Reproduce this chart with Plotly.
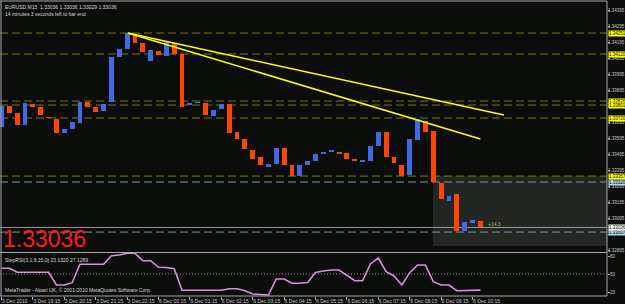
import plotly.graph_objects as go

W, H = 625, 304

# ---------------- data ----------------
bar_index = list(range(62))
opens = [1.33664, 1.33795, 1.33751, 1.33676, 1.33808, 1.33789, 1.33726, 1.33714, 1.33626, 1.33651,
         1.33689, 1.33820, 1.33789, 1.33764, 1.33820, 1.34101, 1.34151, 1.34245, 1.34189, 1.34076,
         1.34139, 1.34108, 1.34189, 1.34120, 1.33801, 1.33814, 1.33814, 1.33733, 1.33776, 1.33808,
         1.33633, 1.33589, 1.33520, 1.33476, 1.33414, 1.33433, 1.33533, 1.33426, 1.33358, 1.33426,
         1.33451, 1.33501, 1.33508, 1.33508, 1.33501, 1.33464, 1.33451, 1.33451, 1.33545, 1.33633,
         1.33476, 1.33426, 1.33364, 1.33583, 1.33701, 1.33639, 1.33314, 1.33201, 1.33245, 1.33014,
         1.33064, 1.33076]
closes = [1.33795, 1.33751, 1.33676, 1.33814, 1.33789, 1.33739, 1.33720, 1.33626, 1.33651, 1.33695,
          1.33820, 1.33789, 1.33758, 1.33808, 1.34101, 1.34151, 1.34251, 1.34189, 1.34133, 1.34145,
          1.34114, 1.34195, 1.34120, 1.33789, 1.33814, 1.33820, 1.33739, 1.33770, 1.33808, 1.33626,
          1.33589, 1.33526, 1.33464, 1.33426, 1.33433, 1.33533, 1.33426, 1.33358, 1.33426, 1.33451,
          1.33495, 1.33508, 1.33514, 1.33501, 1.33464, 1.33451, 1.33458, 1.33545, 1.33633, 1.33476,
          1.33439, 1.33358, 1.33589, 1.33714, 1.33633, 1.33320, 1.33214, 1.33233, 1.33014, 1.33070,
          1.33083, 1.33036]
rsi = [59.5, 59.5, 52.8, 52.8, 52.8, 52.8, 52.8, 31.7, 31.7, 35.5,
       66.2, 66.2, 66.2, 66.2, 80.5, 81.7, 84.5, 84.5, 72.2, 72.2,
       61.2, 60.8, 58.8, 22.8, 22.8, 22.8, 22.8, 22.8, 22.8, 25.5,
       25.5, 22.2, 16.7, 15.8, 15.0, 41.7, 41.7, 34.5, 34.5, 35.8,
       52.5, 55.0, 56.7, 56.7, 48.3, 38.8, 38.8, 66.7, 76.7, 53.8,
       46.7, 31.7, 52.2, 65.0, 65.0, 37.2, 31.7, 31.7, 22.2, 22.2,
       22.2, 23.13]

time_tick_bars = [0, 4, 8, 12, 16, 20, 24, 28, 32, 36, 40, 44, 48, 52, 56, 60]
time_tick_labels = ["3 Dec 2010", "3 Dec 19:15", "3 Dec 20:15", "3 Dec 21:15", "3 Dec 22:15",
                    "6 Dec 00:15", "6 Dec 01:15", "6 Dec 02:15", "6 Dec 03:15", "6 Dec 04:15",
                    "6 Dec 05:15", "6 Dec 06:15", "6 Dec 07:15", "6 Dec 08:15", "6 Dec 09:15",
                    "6 Dec 10:15"]
price_ticks = ["1.34395", "1.34295", "1.34195", "1.34095", "1.33995", "1.33895", "1.33795",
               "1.33695", "1.33595", "1.33495", "1.33395", "1.33295", "1.33195", "1.33095",
               "1.32995", "1.32895"]
hidden_price_ticks = ["1.33795", "1.32995"]   # covered by the price tags
rsi_ticks = [80, 50, 20]

yellow_levels = [1.34251, 1.34120, 1.33826, 1.33801, 1.33720, 1.33357]
blue_levels = [1.33320, 1.33007]
bid_price = 1.33036
trend_upper_x = [16.1, 64.0]
trend_upper_y = [1.34251, 1.33739]
trend_lower_x = [16.1, 61.0]
trend_lower_y = [1.34251, 1.33589]

# ---------------- style ----------------
BG = "#0b0d0b"
BULL = "#4169E1"
BEAR = "#FF4500"
FONT = "Liberation Sans"

X0, X1 = -0.19, 77.13
PLOT_R = 607 / W
MAIN_DOM = [1 - 252 / H, 1]
RSI_DOM = [1 - 296 / H, 1 - 253 / H]
PRICE_RANGE = [1.328825, 1.344575]
RSI_RANGE = [13.33, 85.0]

bases = [min(o, c) for o, c in zip(opens, closes)]
heights = [max(abs(c - o), 0.00002) for o, c in zip(opens, closes)]
colors = [BULL if c >= o else BEAR for o, c in zip(opens, closes)]

fig = go.Figure()
fig.add_trace(go.Bar(x=bar_index, base=bases, y=heights, width=0.62,
                     marker=dict(color=colors, line=dict(width=0)),
                     xaxis="x", yaxis="y", hoverinfo="skip"))
fig.add_trace(go.Scatter(x=bar_index, y=rsi, mode="lines",
                         line=dict(color="#d98fdc", width=1.6),
                         xaxis="x2", yaxis="y2", hoverinfo="skip"))
fig.add_trace(go.Scatter(x=trend_upper_x, y=trend_upper_y, mode="lines",
                         line=dict(color="#ffff00", width=1.6), xaxis="x", yaxis="y"))
fig.add_trace(go.Scatter(x=trend_lower_x, y=trend_lower_y, mode="lines",
                         line=dict(color="#ffff00", width=1.6), xaxis="x", yaxis="y"))

shapes = []
# shaded box
shapes.append(dict(type="rect", xref="paper", yref="paper", x0=433 / W, x1=PLOT_R,
                   y0=1 - 246 / H, y1=1 - 176 / H, fillcolor="rgba(140,140,140,0.2)",
                   line=dict(width=0), layer="below"))
for lv in yellow_levels:
    shapes.append(dict(type="line", xref="paper", yref="y", x0=0, x1=PLOT_R, y0=lv, y1=lv,
                       line=dict(color="#7c7a00", width=1, dash="8px,4px"), layer="below"))
for lv in blue_levels:
    shapes.append(dict(type="line", xref="paper", yref="y", x0=0, x1=PLOT_R, y0=lv, y1=lv,
                       line=dict(color="#7f96a0", width=1, dash="8px,4px"), layer="below"))
shapes.append(dict(type="line", xref="paper", yref="y", x0=0, x1=PLOT_R, y0=bid_price, y1=bid_price,
                   line=dict(color="#9a9a9a", width=1), layer="below"))
# RSI 50 level dotted
shapes.append(dict(type="line", xref="paper", yref="y2", x0=0, x1=PLOT_R, y0=50, y1=50,
                   line=dict(color="#8a8a8a", width=1, dash="1px,2px"), layer="below"))
# frame
GRAY = "#a8a8a8"
for y_px in [1, 252.5, 296]:
    shapes.append(dict(type="line", xref="paper", yref="paper", x0=0, x1=PLOT_R,
                       y0=1 - y_px / H, y1=1 - y_px / H, line=dict(color=GRAY, width=1)))
shapes.append(dict(type="line", xref="paper", yref="paper", x0=1 / W, x1=1 / W,
                   y0=1 - 296 / H, y1=1 - 1 / H, line=dict(color=GRAY, width=1)))
shapes.append(dict(type="line", xref="paper", yref="paper", x0=PLOT_R, x1=PLOT_R,
                   y0=1 - 296 / H, y1=1 - 1 / H, line=dict(color=GRAY, width=1)))

annotations = []
small = dict(family=FONT, size=5, color="#d8d8d8")
annotations.append(dict(xref="paper", yref="paper", x=3 / W, y=1 - 2 / H, xanchor="left", yanchor="top",
                        text="EURUSD,M15  1.33036 1.33036 1.33029 1.33036", showarrow=False, font=small))
annotations.append(dict(xref="paper", yref="paper", x=3 / W, y=1 - 9 / H, xanchor="left", yanchor="top",
                        text="14 minutes 3 seconds left to bar end", showarrow=False, font=small))
annotations.append(dict(xref="paper", yref="paper", x=1 / W, y=1 - 254 / H, xanchor="left", yanchor="bottom",
                        text="1.33036", showarrow=False,
                        font=dict(family=FONT, size=23, color="#ff1a1a")))
annotations.append(dict(xref="paper", yref="paper", x=3 / W, y=1 - 255 / H, xanchor="left", yanchor="top",
                        text="StepRSI(3,1.8,15,0) 23.1320 27.1269", showarrow=False, font=small))
annotations.append(dict(xref="paper", yref="paper", x=3 / W, y=1 - 295 / H, xanchor="left", yanchor="bottom",
                        text="MetaTrader - Alpari UK, © 2001-2010 MetaQuotes Software Corp.",
                        showarrow=False, font=small))
annotations.append(dict(xref="paper", yref="paper", x=486 / W, y=1 - 224 / H, xanchor="left", yanchor="middle",
                        text="+14.3", showarrow=False, font=dict(family=FONT, size=5, color="#b8b040")))


def tag(price, bg):
    return dict(xref="paper", yref="y", x=608 / W, y=price, xanchor="left", yanchor="middle",
                text="%.5f" % price, showarrow=False, bgcolor=bg, borderpad=0,
                font=dict(family=FONT, size=4.5, color="#000000"))


for lv in yellow_levels:
    annotations.append(tag(lv, "#ffff00"))
for lv in blue_levels:
    annotations.append(tag(lv, "#add8e6"))
annotations.append(tag(bid_price, "#ffffff"))

axis_font = dict(family=FONT, size=4.5, color="#c8c8c8")
fig.update_layout(
    width=W, height=H, margin=dict(l=0, r=0, t=0, b=0, autoexpand=False),
    paper_bgcolor=BG, plot_bgcolor=BG, showlegend=False, bargap=0,
    xaxis=dict(domain=[0, PLOT_R], range=[X0, X1], anchor="y", showticklabels=False,
               showgrid=False, zeroline=False, ticks="", automargin=False),
    xaxis2=dict(domain=[0, PLOT_R], range=[X0, X1], anchor="y2", showgrid=False, zeroline=False,
                tickmode="array", tickvals=time_tick_bars, ticktext=time_tick_labels,
                ticks="outside", ticklen=3, tickcolor=GRAY, ticklabelposition="outside right",
                tickangle=0, automargin=False,
                tickfont=dict(family=FONT, size=5, color="#c8c8c8")),
    yaxis=dict(domain=MAIN_DOM, range=PRICE_RANGE, side="right", anchor="x", showgrid=False,
               zeroline=False, tickmode="array", tickvals=[float(t) for t in price_ticks],
               ticktext=[("" if t in hidden_price_ticks else t) for t in price_ticks],
               ticks="outside", ticklen=2, tickcolor=GRAY, tickfont=axis_font, automargin=False,
               ticklabelstandoff=-3),
    yaxis2=dict(domain=RSI_DOM, range=RSI_RANGE, side="right", anchor="x2", showgrid=False,
                zeroline=False, tickmode="array", tickvals=rsi_ticks, ticks="outside", ticklen=2,
                tickcolor=GRAY, tickfont=axis_font, automargin=False, ticklabelstandoff=-1),
    shapes=shapes, annotations=annotations,
)

fig.write_html("out.html")
